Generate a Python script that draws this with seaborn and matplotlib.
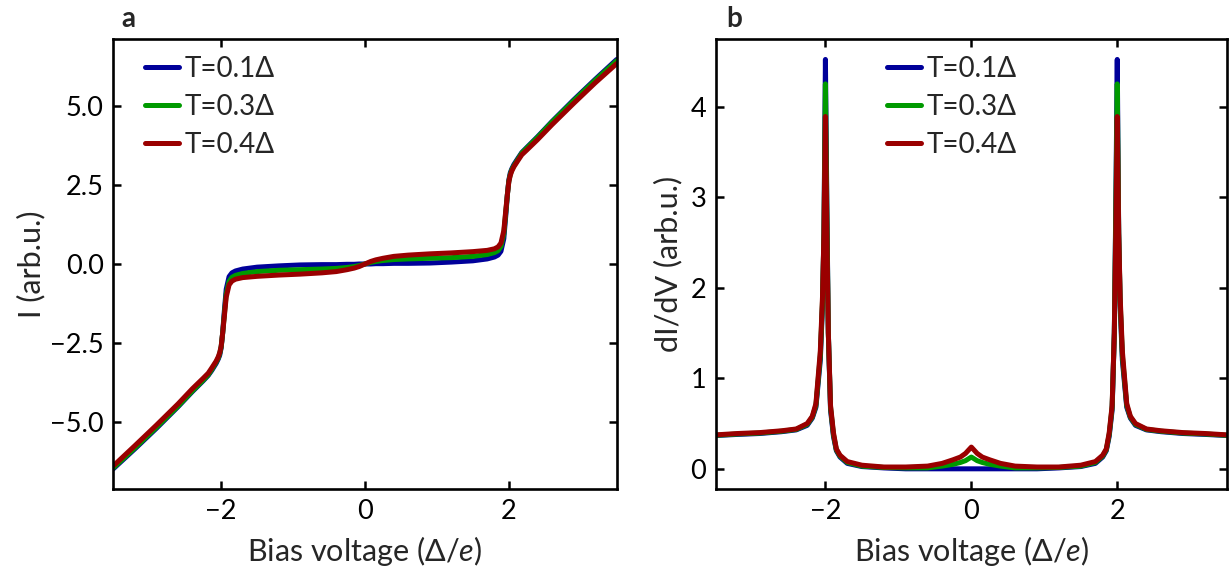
import numpy as np
import pandas as pd
import matplotlib
matplotlib.use("Agg")
import matplotlib.pyplot as plt
import seaborn as sns
from matplotlib.lines import Line2D

# ---------------- data ----------------
bias = [-3.5, -3.2, -2.9, -2.6, -2.4, -2.25, -2.18, -2.13, -2.07, -2.04, -2.02, -2.0,
        -1.98, -1.96, -1.93, -1.89, -1.85, -1.8, -1.7, -1.5, -1.2, -0.9, -0.6,
        -0.4, -0.25, -0.15, -0.08, 0.0, 0.08, 0.15, 0.25, 0.4, 0.6, 0.9, 1.2,
        1.5, 1.7, 1.8, 1.85, 1.89, 1.93, 1.96, 1.98, 2.0, 2.02, 2.04, 2.07,
        2.13, 2.18, 2.25, 2.4, 2.6, 2.9, 3.2, 3.5]

labels = ["T=0.1Δ", "T=0.3Δ", "T=0.4Δ"]

current_t01 = [-6.47, -5.84, -5.19, -4.51, -4.03, -3.69, -3.52, -3.36, -3.14, -3.0, -2.88, -2.65,
               -2.2, -1.6, -0.8, -0.4, -0.28, -0.22, -0.16, -0.10, -0.06, -0.03, -0.02,
               -0.02, -0.01, -0.01, 0.0, 0.0, 0.0, 0.01, 0.01, 0.02, 0.02, 0.03, 0.06,
               0.10, 0.16, 0.22, 0.28, 0.4, 0.8, 1.6, 2.2, 2.65, 2.88, 3.0, 3.14,
               3.35, 3.52, 3.68, 4.02, 4.5, 5.18, 5.83, 6.46]
current_t03 = [-6.44, -5.81, -5.16, -4.49, -4.01, -3.67, -3.5, -3.33, -3.1, -2.97, -2.83, -2.62,
               -2.2, -1.7, -0.95, -0.55, -0.42, -0.36, -0.3, -0.24, -0.2, -0.18, -0.16,
               -0.14, -0.11, -0.08, -0.05, 0.0, 0.05, 0.08, 0.11, 0.14, 0.16, 0.18, 0.2,
               0.24, 0.3, 0.36, 0.42, 0.55, 0.95, 1.7, 2.2, 2.62, 2.83, 2.97, 3.1,
               3.32, 3.5, 3.66, 4.0, 4.48, 5.15, 5.8, 6.42]
current_t04 = [-6.38, -5.74, -5.09, -4.42, -3.94, -3.61, -3.45, -3.28, -3.07, -2.93, -2.8, -2.6,
               -2.2, -1.75, -1.05, -0.66, -0.54, -0.48, -0.43, -0.39, -0.35, -0.32, -0.28,
               -0.24, -0.18, -0.13, -0.08, 0.0, 0.08, 0.13, 0.18, 0.24, 0.28, 0.32, 0.35,
               0.39, 0.43, 0.48, 0.54, 0.66, 1.05, 1.75, 2.2, 2.6, 2.8, 2.93, 3.07,
               3.28, 3.45, 3.6, 3.93, 4.4, 5.07, 5.72, 6.33]

didv_t01 = [0.368, 0.38, 0.39, 0.41, 0.43, 0.48, 0.56, 0.68, 1.2, 1.8, 2.6, 4.52,
            2.9, 1.5, 0.65, 0.36, 0.2, 0.13, 0.06, 0.025, 0.01, 0.0, 0.0,
            0.0, 0.0, 0.0, 0.0, 0.0, 0.0, 0.0, 0.0, 0.0, 0.0, 0.0, 0.01,
            0.025, 0.06, 0.13, 0.2, 0.36, 0.65, 1.5, 2.9, 4.52, 2.6, 1.8, 1.2,
            0.68, 0.56, 0.48, 0.43, 0.41, 0.39, 0.38, 0.368]
didv_t03 = [0.37, 0.385, 0.395, 0.415, 0.435, 0.49, 0.57, 0.7, 1.25, 1.85, 2.6, 4.25,
            2.8, 1.5, 0.68, 0.38, 0.21, 0.14, 0.07, 0.03, 0.015, 0.01, 0.01,
            0.03, 0.05, 0.07, 0.09, 0.13, 0.09, 0.07, 0.05, 0.03, 0.01, 0.01, 0.015,
            0.03, 0.07, 0.14, 0.21, 0.38, 0.68, 1.5, 2.8, 4.25, 2.6, 1.85, 1.25,
            0.7, 0.57, 0.49, 0.435, 0.415, 0.395, 0.385, 0.37]
didv_t04 = [0.375, 0.39, 0.40, 0.42, 0.44, 0.5, 0.58, 0.72, 1.3, 1.9, 2.6, 3.89,
            2.6, 1.5, 0.7, 0.4, 0.22, 0.15, 0.08, 0.04, 0.02, 0.02, 0.03,
            0.06, 0.10, 0.13, 0.17, 0.24, 0.17, 0.13, 0.10, 0.06, 0.03, 0.02, 0.02,
            0.04, 0.08, 0.15, 0.22, 0.4, 0.7, 1.5, 2.6, 3.89, 2.6, 1.9, 1.3,
            0.72, 0.58, 0.5, 0.44, 0.42, 0.40, 0.39, 0.375]

colors = ["#00009a", "#009a00", "#9a0000"]

# ---------------- style ----------------
sns.set_theme(style="ticks")
plt.rcParams["font.family"] = ["Lato", "DejaVu Sans"]
plt.rcParams["mathtext.fontset"] = "custom"
plt.rcParams["mathtext.rm"] = "Lato"
plt.rcParams["mathtext.it"] = "Lato:italic"
plt.rcParams["axes.unicode_minus"] = True

TICK_FS = 19.5
XLABEL_FS = 22
LEG_FS = 20
LW = 3.6

fig = plt.figure(figsize=(12.3, 5.7), dpi=100)
ax1 = fig.add_axes([0.0921, 0.1416, 0.4093, 0.79])
ax2 = fig.add_axes([0.5821, 0.1416, 0.4152, 0.79])

def make_df(series):
    frames = []
    for lab, vals in zip(labels, series):
        frames.append(pd.DataFrame({"V": bias, "y": vals, "T": lab}))
    return pd.concat(frames, ignore_index=True)

df_i = make_df([current_t01, current_t03, current_t04])
df_d = make_df([didv_t01, didv_t03, didv_t04])

for ax, df in ((ax1, df_i), (ax2, df_d)):
    sns.lineplot(data=df, x="V", y="y", hue="T", palette=colors, sort=False,
                 estimator=None, lw=LW, ax=ax, legend=False)

for ax in (ax1, ax2):
    ax.set_xlim(-3.5, 3.5)
    ax.set_xticks([-2, 0, 2])
    ax.tick_params(direction="in", top=True, right=True, length=5.8, width=1.8,
                   labelsize=TICK_FS, pad=7, colors="black")
    for sp in ax.spines.values():
        sp.set_linewidth(1.9)
        sp.set_color("black")
    ax.set_xlabel("Bias voltage (Δ/$e$)", fontsize=XLABEL_FS, labelpad=7)
    ax.grid(False)

ax1.set_yticks([-5.0, -2.5, 0.0, 2.5, 5.0])
ax2.set_yticks([0, 1, 2, 3, 4])
ax1.set_ylabel("I (arb.u.)", fontsize=XLABEL_FS, labelpad=3)
ax2.set_ylabel("dI/dV (arb.u.)", fontsize=XLABEL_FS, labelpad=6)

handles = [Line2D([], [], color=c, lw=LW) for c in colors]
for ax, x0 in ((ax1, 0.063), (ax2, 0.335)):
    ax.legend(handles, labels, loc="upper left", bbox_to_anchor=(x0, 0.962),
              frameon=False, fontsize=LEG_FS, handlelength=1.22, handletextpad=0.22,
              labelspacing=0.43, borderpad=0, borderaxespad=0)

fig.text(121 / 1230, 1 - 27 / 570, "a", fontsize=20, fontweight="bold", ha="left", va="baseline")
fig.text(726 / 1230, 1 - 27 / 570, "b", fontsize=20, fontweight="bold", ha="left", va="baseline")

fig.savefig("out.png", dpi=100)
